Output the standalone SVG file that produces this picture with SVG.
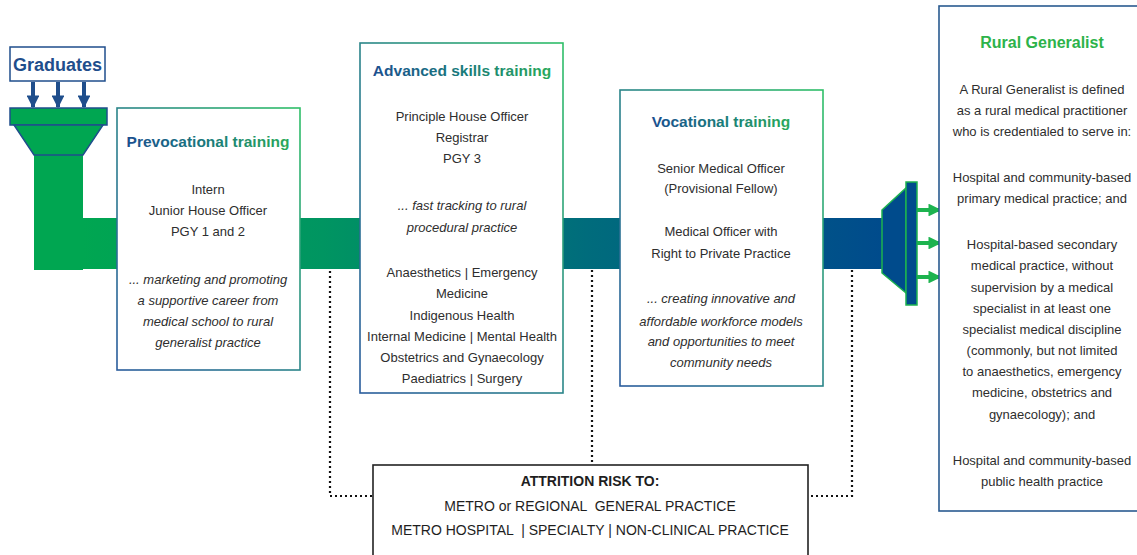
<svg xmlns="http://www.w3.org/2000/svg" width="1137" height="555" viewBox="0 0 1137 555">
<defs>
<linearGradient id="boxStroke" x1="0" y1="1" x2="1" y2="0">
<stop offset="0" stop-color="#2a5c9c"/>
<stop offset="0.45" stop-color="#2a7f8c"/>
<stop offset="1" stop-color="#2fbf68"/>
</linearGradient>
<linearGradient id="titleFill" x1="0" y1="0" x2="1" y2="0">
<stop offset="0" stop-color="#1d4f8f"/>
<stop offset="0.5" stop-color="#1a7a7a"/>
<stop offset="1" stop-color="#2aa95a"/>
</linearGradient>
<linearGradient id="pipe" gradientUnits="userSpaceOnUse" x1="83" y1="0" x2="882" y2="0">
<stop offset="0" stop-color="#00a651"/>
<stop offset="0.3" stop-color="#009561"/>
<stop offset="0.63" stop-color="#006c7c"/>
<stop offset="1" stop-color="#004b8c"/>
</linearGradient>
<marker id="blueHead" viewBox="0 0 10 10" refX="9" refY="5" markerWidth="3.2" markerHeight="3.2" orient="auto">
<path d="M0,0 L10,5 L0,10 z" fill="#1f4e8c"/>
</marker>
<marker id="greenHead" viewBox="0 0 10 10" refX="9" refY="5" markerWidth="3.2" markerHeight="3.2" orient="auto">
<path d="M0,0 L10,5 L0,10 z" fill="#1db34f"/>
</marker>
</defs>
<style>
.box{fill:#fff;stroke:url(#boxStroke);stroke-width:1.6}
.t{font-family:"Liberation Sans",Arial,sans-serif;font-size:13px;fill:#2e2e2e;text-anchor:middle}
.i{font-style:italic}
.title{font-family:"Liberation Sans",Arial,sans-serif;font-size:15.5px;font-weight:bold;text-anchor:middle;fill:url(#titleFill)}
.dot{fill:none;stroke:#111;stroke-width:2.2;stroke-dasharray:2 3}
.att{font-family:"Liberation Sans",Arial,sans-serif;font-size:14px;fill:#1e1e1e;text-anchor:middle}
</style>
<rect width="1137" height="555" fill="#fff"/>

<g id="connectors">
<rect x="34" y="155" width="49" height="115" fill="#00a651"/>
<rect x="34" y="218" width="49" height="52" fill="#00a651"/>
<rect x="83" y="218" width="800" height="51" fill="url(#pipe)"/>
<path class="dot" d="M330,271 V496 H373"/>
<path class="dot" d="M592,270 V465"/>
<path class="dot" d="M852,270 V496 H808"/>
<g stroke="#1f4e8c" stroke-width="4" marker-end="url(#blueHead)">
<line x1="33" y1="82" x2="33" y2="107"/>
<line x1="58" y1="82" x2="58" y2="107"/>
<line x1="84" y1="82" x2="84" y2="107"/>
</g>
<g stroke="#1db34f" stroke-width="4" marker-end="url(#greenHead)">
<line x1="917" y1="210" x2="940" y2="210"/>
<line x1="917" y1="243" x2="940" y2="243"/>
<line x1="917" y1="277" x2="940" y2="277"/>
</g>
</g>

<g id="graduates">
<rect x="10" y="47" width="95" height="34" fill="#fff" stroke="#1f4e8c" stroke-width="1.5"/>
<text x="57.5" y="71" font-family="Liberation Sans,Arial,sans-serif" font-size="18" font-weight="bold" fill="#1f4e8c" text-anchor="middle">Graduates</text>
</g>

<g id="funnel-in">
<rect x="10" y="108" width="97" height="17" fill="#00a651" stroke="#1f4e8c" stroke-width="1.5"/>
<path d="M14,125 L103,125 L83,155 L34,155 Z" fill="#00a651" stroke="#1f4e8c" stroke-width="1.5"/>
</g>

<g id="funnel-out">
<path d="M882,210 L906,188 L906,293 L882,273 Z" fill="#004b8c" stroke="#1db34f" stroke-width="1.5"/>
<rect x="906" y="182" width="11" height="123" fill="#004b8c" stroke="#1db34f" stroke-width="1.5"/>
</g>

<g id="prevocational">
<rect class="box" x="117" y="108" width="183" height="262"/>
<text class="title" x="208" y="147">Prevocational training</text>
<text class="t" x="208" y="194">Intern</text>
<text class="t" x="208" y="215">Junior House Officer</text>
<text class="t" x="208" y="236">PGY 1 and 2</text>
<text class="t i" x="208" y="284">... marketing and promoting</text>
<text class="t i" x="208" y="305">a supportive career from</text>
<text class="t i" x="208" y="326">medical school to rural</text>
<text class="t i" x="208" y="347">generalist practice</text>
</g>

<g id="advanced">
<rect class="box" x="360" y="43" width="203" height="350"/>
<text class="title" x="462" y="76">Advanced skills training</text>
<text class="t" x="462" y="121">Principle House Officer</text>
<text class="t" x="462" y="142">Registrar</text>
<text class="t" x="462" y="163">PGY 3</text>
<text class="t i" x="462" y="210">... fast tracking to rural</text>
<text class="t i" x="462" y="232">procedural practice</text>
<text class="t" x="462" y="277">Anaesthetics | Emergency</text>
<text class="t" x="462" y="298">Medicine</text>
<text class="t" x="462" y="320">Indigenous Health</text>
<text class="t" x="462" y="341">Internal Medicine | Mental Health</text>
<text class="t" x="462" y="362">Obstetrics and Gynaecology</text>
<text class="t" x="462" y="383">Paediatrics | Surgery</text>
</g>

<g id="vocational">
<rect class="box" x="620" y="90" width="203" height="296"/>
<text class="title" x="721" y="127">Vocational training</text>
<text class="t" x="721" y="173">Senior Medical Officer</text>
<text class="t" x="721" y="193">(Provisional Fellow)</text>
<text class="t" x="721" y="236">Medical Officer with</text>
<text class="t" x="721" y="258">Right to Private Practice</text>
<text class="t i" x="721" y="303">... creating innovative and</text>
<text class="t i" x="721" y="326">affordable workforce models</text>
<text class="t i" x="721" y="346">and opportunities to meet</text>
<text class="t i" x="721" y="367">community needs</text>
</g>

<g id="rural-generalist">
<rect x="939" y="6" width="210" height="505" fill="#fff" stroke="#2a5a90" stroke-width="1.6"/>
<text class="title" x="1042" y="48" style="fill:#2db34a;font-size:16px">Rural Generalist</text>
<text class="t" x="1042" y="94">A Rural Generalist is defined</text>
<text class="t" x="1042" y="115">as a rural medical practitioner</text>
<text class="t" x="1042" y="136">who is credentialed to serve in:</text>
<text class="t" x="1042" y="182">Hospital and community-based</text>
<text class="t" x="1042" y="203">primary medical practice; and</text>
<text class="t" x="1042" y="249">Hospital-based secondary</text>
<text class="t" x="1042" y="270">medical practice, without</text>
<text class="t" x="1042" y="292">supervision by a medical</text>
<text class="t" x="1042" y="313">specialist in at least one</text>
<text class="t" x="1042" y="334">specialist medical discipline</text>
<text class="t" x="1042" y="355">(commonly, but not limited</text>
<text class="t" x="1042" y="376">to anaesthetics, emergency</text>
<text class="t" x="1042" y="397">medicine, obstetrics and</text>
<text class="t" x="1042" y="419">gynaecology); and</text>
<text class="t" x="1042" y="465">Hospital and community-based</text>
<text class="t" x="1042" y="486">public health practice</text>
</g>

<g id="attrition">
<rect x="373" y="465" width="435" height="100" fill="#fff" stroke="#222" stroke-width="1.6"/>
<text class="att" x="590" y="486" font-weight="bold">ATTRITION RISK TO:</text>
<text class="att" x="590" y="511" xml:space="preserve">METRO or REGIONAL  GENERAL PRACTICE</text>
<text class="att" x="590" y="535" xml:space="preserve">METRO HOSPITAL  | SPECIALTY | NON-CLINICAL PRACTICE</text>
</g>
</svg>
